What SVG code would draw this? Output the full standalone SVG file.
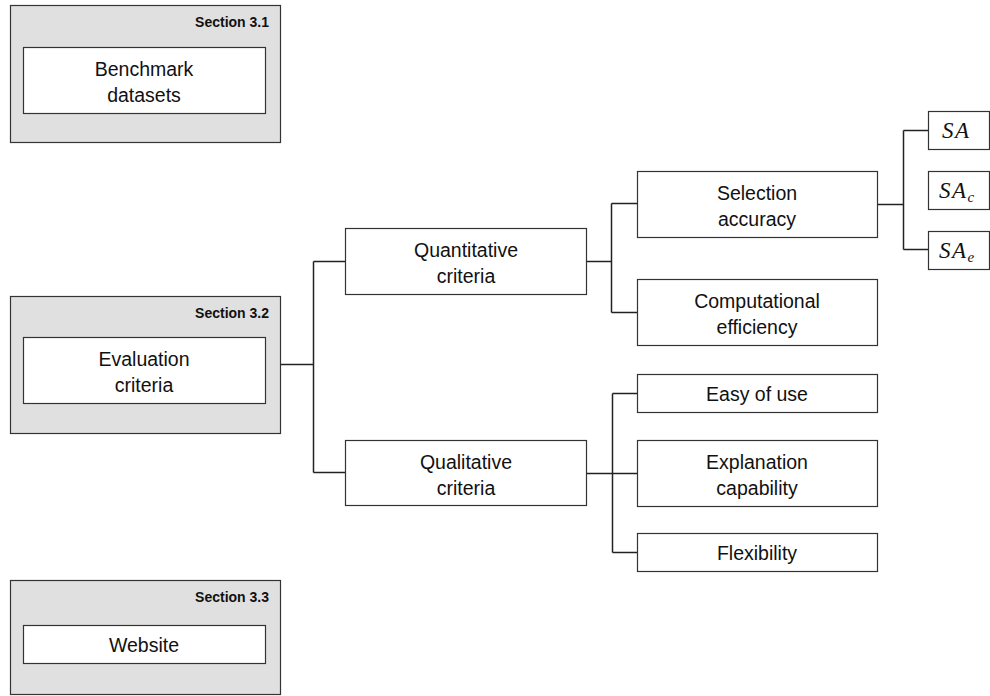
<svg xmlns="http://www.w3.org/2000/svg" width="990" height="696" viewBox="0 0 990 696">
<style>
.sec{fill:#e0e0e0;stroke:#333;stroke-width:1.2}
.box{fill:#fff;stroke:#333;stroke-width:1.2}
.t{font-family:"Liberation Sans",Arial,sans-serif;font-size:19.5px;fill:#111;text-anchor:middle}
.h{font-family:"Liberation Sans",Arial,sans-serif;font-size:14px;font-weight:bold;fill:#111;text-anchor:end}
.m{font-family:"Liberation Serif","Times New Roman",serif;font-style:italic;font-size:23px;letter-spacing:1.5px;fill:#111}
.sub{font-size:15px;letter-spacing:0}
.c{fill:none;stroke:#222;stroke-width:1.5}
</style>
<rect width="990" height="696" fill="#fff"/>
<g id="sec31">
<rect class="sec" x="10.5" y="5.5" width="270" height="137"/>
<text class="h" x="269" y="27">Section 3.1</text>
<rect class="box" x="23.5" y="47.5" width="242" height="66"/>
<text class="t" x="144" y="76">Benchmark</text>
<text class="t" x="144" y="102">datasets</text>
</g>
<g id="sec32">
<rect class="sec" x="10.5" y="296.5" width="270" height="137"/>
<text class="h" x="269" y="318">Section 3.2</text>
<rect class="box" x="23.5" y="337.5" width="242" height="66"/>
<text class="t" x="144" y="366">Evaluation</text>
<text class="t" x="144" y="392">criteria</text>
</g>
<g id="sec33">
<rect class="sec" x="10.5" y="580.5" width="270" height="114"/>
<text class="h" x="269" y="602">Section 3.3</text>
<rect class="box" x="23.5" y="625.5" width="242" height="38"/>
<text class="t" x="144" y="652">Website</text>
</g>
<g id="connectors">
<path class="c" d="M280.5 364.5H313.5M313.5 261.5V472.5M313.5 261.5H345.5M313.5 472.5H345.5"/>
<path class="c" d="M586.5 261.5H611.5M611.5 203.5V312.5M611.5 203.5H637.5M611.5 312.5H637.5"/>
<path class="c" d="M586.5 473.5H612.5M612.5 393.5V552.5M612.5 393.5H637.5M612.5 473.5H637.5M612.5 552.5H637.5"/>
<path class="c" d="M877.5 204.5H903.5M903.5 130.5V249.5M903.5 130.5H928.5M903.5 249.5H928.5"/>
</g>
<g id="quant">
<rect class="box" x="345.5" y="228.5" width="241" height="66"/>
<text class="t" x="466" y="257">Quantitative</text>
<text class="t" x="466" y="283">criteria</text>
</g>
<g id="qual">
<rect class="box" x="345.5" y="440.5" width="241" height="65"/>
<text class="t" x="466" y="469">Qualitative</text>
<text class="t" x="466" y="495">criteria</text>
</g>
<g id="selacc">
<rect class="box" x="637.5" y="171.5" width="240" height="66"/>
<text class="t" x="757" y="200">Selection</text>
<text class="t" x="757" y="226">accuracy</text>
</g>
<g id="compeff">
<rect class="box" x="637.5" y="279.5" width="240" height="66"/>
<text class="t" x="757" y="308">Computational</text>
<text class="t" x="757" y="334">efficiency</text>
</g>
<g id="easy">
<rect class="box" x="637.5" y="374.5" width="240" height="38"/>
<text class="t" x="757" y="401">Easy of use</text>
</g>
<g id="expl">
<rect class="box" x="637.5" y="440.5" width="240" height="66"/>
<text class="t" x="757" y="469">Explanation</text>
<text class="t" x="757" y="495">capability</text>
</g>
<g id="flex">
<rect class="box" x="637.5" y="533.5" width="240" height="38"/>
<text class="t" x="757" y="560">Flexibility</text>
</g>
<g id="sa">
<rect class="box" x="928.5" y="111.5" width="61" height="38"/>
<text class="m" x="942" y="138">SA</text>
</g>
<g id="sac">
<rect class="box" x="928.5" y="171.5" width="61" height="38"/>
<text class="m" x="939" y="198">SA<tspan class="sub" dy="4">c</tspan></text>
</g>
<g id="sae">
<rect class="box" x="928.5" y="231.5" width="61" height="38"/>
<text class="m" x="939" y="258">SA<tspan class="sub" dy="4">e</tspan></text>
</g>
</svg>
